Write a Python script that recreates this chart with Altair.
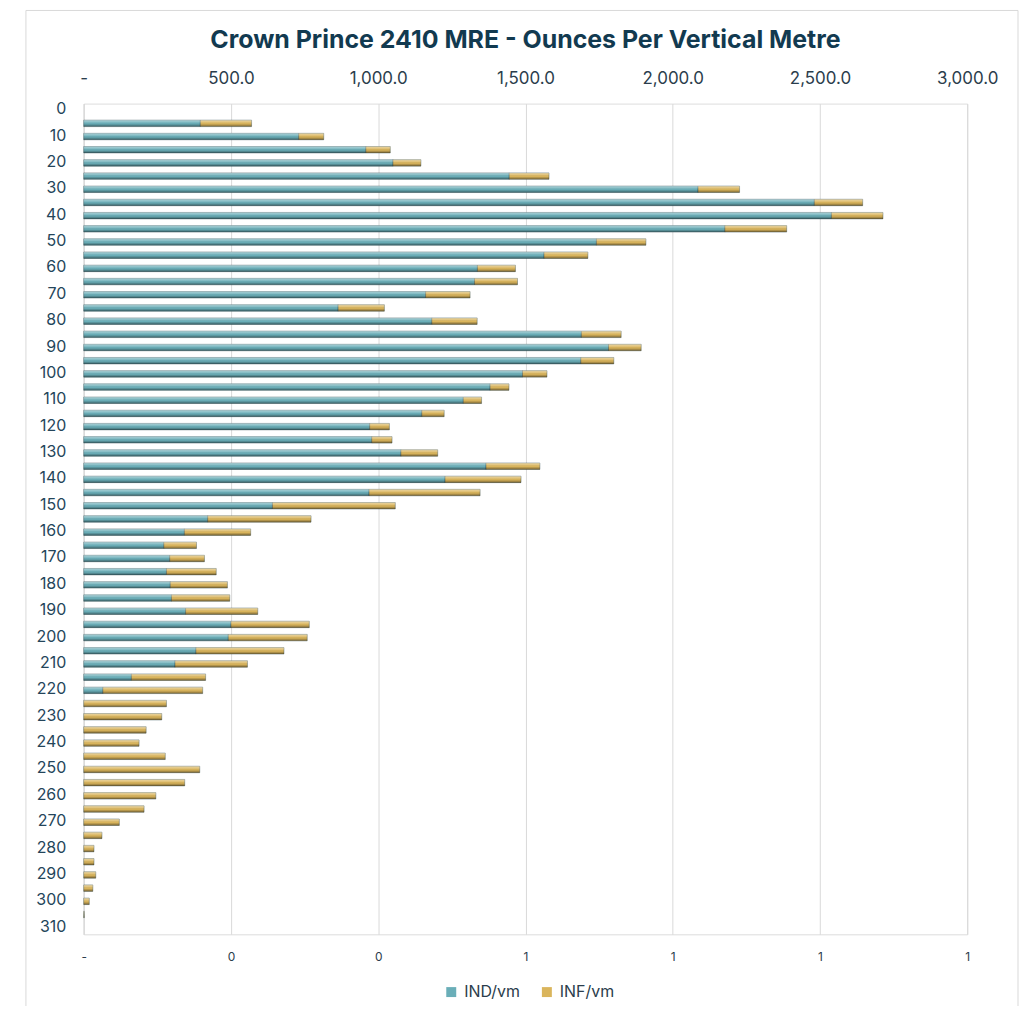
import altair as alt
import pandas as pd

# ---- data ----
depths = list(range(0, 315, 5))  # 0 .. 310
ind_vm = [0, 396, 730, 958, 1050, 1445, 2086, 2481, 2539, 2177, 1741, 1563, 1337, 1327,
          1161, 864, 1182, 1690, 1782, 1688, 1490, 1380, 1289, 1148, 971, 978, 1077,
          1366, 1227, 969, 641, 421, 342, 272, 292, 281, 294, 298, 346, 500, 491, 381,
          310, 162, 65,
          0, 0, 0, 0, 0, 0, 0, 0, 0, 0, 0, 0, 0, 0, 0, 0, 0, 0]
inf_vm = [0, 174, 85, 83, 95, 135, 141, 164, 175, 210, 168, 149, 129, 146, 151, 157, 154,
          135, 111, 112, 83, 64, 62, 76, 67, 69, 125, 183, 258, 377, 417, 351, 225, 111,
          118, 169, 194, 198, 245, 266, 268, 299, 246, 252, 339,
          281, 265, 212, 188, 277, 394, 343, 245, 205, 121, 62, 35, 35, 41, 31, 19, 2, 0]
series_names = ["IND/vm", "INF/vm"]
series_colors = ["#6aaeb8", "#dab55c"]
x_ticks = [0, 500, 1000, 1500, 2000, 2500, 3000]
top_labels = ["-", "500.0", "1,000.0", "1,500.0", "2,000.0", "2,500.0", "3,000.0"]
bottom_labels = ["-", "0", "0", "1", "1", "1", "1"]
y_ticks = list(range(0, 320, 10))
title_text = "Crown Prince 2410 MRE - Ounces Per Vertical Metre"

rows = []
for d, a, b in zip(depths, ind_vm, inf_vm):
    if a > 0:
        rows.append({"depth": d, "series": series_names[0], "start": 0, "end": a, "o": 0})
    if b > 0:
        rows.append({"depth": d, "series": series_names[1], "start": a, "end": a + b, "o": 1})
df = pd.DataFrame(rows)

step = x_ticks[1] - x_ticks[0]
top_expr = "[" + ",".join("'%s'" % s for s in top_labels) + "][round(datum.value / %d)]" % step
bot_expr = "[" + ",".join("'%s'" % s for s in bottom_labels) + "][round(datum.value / %d)]" % step

W, H = 887, 834
FONT = "Inter"
TXT = "#2b3d4c"
BAR = 6.5

x_scale = alt.Scale(domain=[x_ticks[0], x_ticks[-1]], nice=False, zero=True, padding=0)
y_scale = alt.Scale(domain=[-2.5, 312.5], reverse=True, nice=False, zero=False, padding=0)

y_axis = alt.Axis(values=y_ticks, title=None, ticks=False, grid=False,
                  domainColor="#d9d9d9", domainWidth=1, labelPadding=18, labelOffset=-1.5,
                  labelFontSize=16, labelFont=FONT, labelColor="#24455a")

frame = alt.Chart(pd.DataFrame({"f": [0]})).mark_rect(
    fill="transparent", stroke="#d9d9d9", strokeWidth=1
).encode(
    x=alt.value(-58), x2=alt.value(938), y=alt.value(-93.5), y2=alt.value(930)
)

base = alt.Chart(df).mark_bar(
    orient="horizontal", size=BAR, stroke="#2f4d52", strokeWidth=0.5, strokeOpacity=0.8
).encode(
    x=alt.X("start:Q", scale=x_scale,
            axis=alt.Axis(orient="top", values=x_ticks, labelExpr=top_expr, title=None,
                          domain=False, ticks=False, grid=True, gridColor="#d9d9d9",
                          gridWidth=1, labelPadding=16, labelFontSize=17, labelFont=FONT,
                          labelColor=TXT, labelFlush=False, labelOverlap=False)),
    x2="end:Q",
    y=alt.Y("depth:Q", scale=y_scale, axis=y_axis),
    color=alt.Color("series:N",
                    scale=alt.Scale(domain=series_names, range=series_colors),
                    legend=alt.Legend(title=None, orient="none", legendX=361, legendY=884,
                                      direction="horizontal", symbolType="square",
                                      symbolSize=100, symbolStrokeWidth=0,
                                      labelFontSize=16, labelFont=FONT, labelColor=TXT,
                                      columnPadding=18, labelOffset=5)),
    order=alt.Order("o:Q"),
)

shade = alt.LinearGradient(
    gradient="linear", x1=0, x2=0, y1=0, y2=1,
    stops=[
        alt.GradientStop(color="rgba(255,255,255,0.45)", offset=0),
        alt.GradientStop(color="rgba(255,255,255,0.15)", offset=0.35),
        alt.GradientStop(color="rgba(0,0,0,0.0)", offset=0.55),
        alt.GradientStop(color="rgba(0,0,0,0.45)", offset=1),
    ],
)

overlay = alt.Chart(df).mark_bar(orient="horizontal", size=BAR, fill=shade).encode(
    x=alt.X("start:Q", scale=x_scale,
            axis=alt.Axis(orient="bottom", values=x_ticks, labelExpr=bot_expr, title=None,
                          domain=False, ticks=False, grid=False, labelPadding=17,
                          labelFontSize=12, labelFont=FONT, labelColor=TXT,
                          labelFlush=False, labelOverlap=False)),
    x2="end:Q",
    y=alt.Y("depth:Q", scale=y_scale, axis=y_axis),
)

chart = alt.layer(frame, base, overlay).resolve_axis(x="independent", y="shared").properties(
    width=W, height=H,
    autosize=alt.AutoSizeParams(type="none"),
    padding={"left": 76, "top": 94, "right": 53, "bottom": 70},
    title=alt.TitleParams(text=title_text, font=FONT, fontSize=25, fontWeight="bold",
                          color="#123a50", anchor="middle", offset=14, dy=57),
).configure_view(stroke=None).configure(background="white")

chart.save("out.html", embed_options={"renderer": "svg", "actions": False})
